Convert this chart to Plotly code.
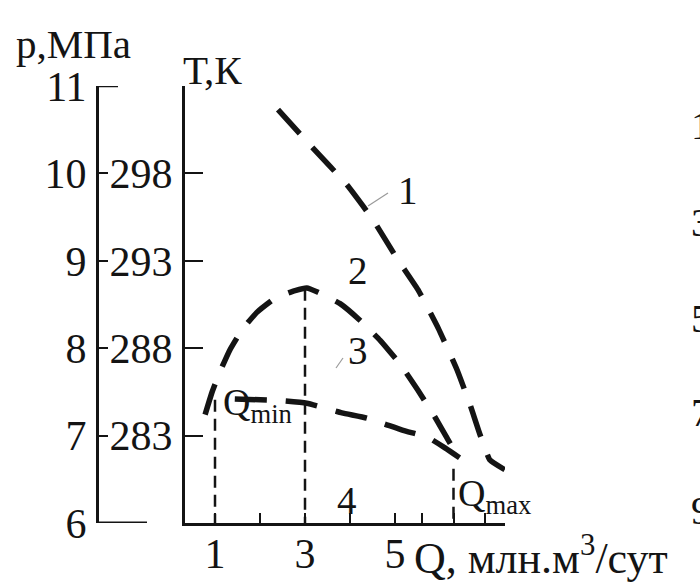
import plotly.graph_objects as go

# ---- data ----
# curve 1
Q1 = [2.40, 3.16, 3.93, 4.51, 5.04, 5.51, 5.96, 6.38, 6.67, 6.89, 7.11, 7.44]
P1 = [10.73, 10.30, 9.87, 9.47, 9.03, 8.67, 8.23, 7.75, 7.35, 7.01, 6.72, 6.61]
# curve 2
Q2 = [0.78, 0.93, 1.11, 1.33, 1.60, 1.93, 2.33, 2.78, 3.04, 3.29, 3.78, 4.22, 4.67, 5.11, 5.51, 5.89, 6.18, 6.44]
P2 = [7.24, 7.49, 7.73, 7.98, 8.21, 8.41, 8.57, 8.66, 8.69, 8.64, 8.51, 8.32, 8.09, 7.82, 7.52, 7.21, 6.95, 6.72]
# curve 3
Q3 = [1.44, 2.44, 3.04, 3.82, 4.38, 5.18, 5.73, 6.11, 6.51]
P3 = [7.42, 7.40, 7.37, 7.26, 7.20, 7.06, 6.98, 6.86, 6.72]
# vertical guide lines (Q, top p)
Q_guides = [1.0, 3.0, 6.3]
P_guides = [7.41, 8.68, 6.62]

# axes
x_tickvals = [1, 2, 3, 4, 5, 5.6, 6.3, 7.0]
x_ticktext = ["1", "", "3", "", "5", "", "", ""]
p_tickvals = [6, 7, 8, 9, 10, 11]
p_ticktext = ["6", "7", "8", "9", "10", "11"]
T_tickvals = [7, 8, 9, 10]
T_ticktext = ["283", "288", "293", "298"]

W, H = 700, 584
FONT = "Liberation Serif"
INK = "#141414"


def px(x):
    return x / W


def py(y):
    return 1 - y / H


fig = go.Figure()

curve_style = dict(color=INK, width=5.5, dash="32px,19px")
for q, p in [(Q1, P1), (Q2, P2), (Q3, P3)]:
    fig.add_trace(go.Scatter(x=q, y=p, mode="lines",
                             line=dict(curve_style, shape="spline", smoothing=0.4),
                             hoverinfo="skip", showlegend=False))

for q, p in zip(Q_guides, P_guides):
    fig.add_trace(go.Scatter(x=[q, q], y=[p, 6], mode="lines",
                             line=dict(color=INK, width=2.5, dash="12px,7px"),
                             hoverinfo="skip", showlegend=False))

# invisible trace for the p axis
fig.add_trace(go.Scatter(x=[None], y=[None], yaxis="y2", showlegend=False))

xr0 = (185 - 170) / 45
xr1 = (505 - 170) / 45
ydom = [py(523), py(86)]

tf = dict(size=42, family=FONT, color=INK)
fig.update_layout(
    width=W, height=H,
    margin=dict(l=0, r=0, t=0, b=0, autoexpand=False),
    paper_bgcolor="white", plot_bgcolor="white",
    font=dict(family=FONT, color=INK, size=40),
    xaxis=dict(domain=[px(185), px(505)], range=[xr0, xr1], automargin=False,
               showline=True, linecolor=INK, linewidth=3,
               showgrid=False, zeroline=False,
               ticks="inside", ticklen=10, tickwidth=2, tickcolor=INK,
               tickvals=x_tickvals, ticktext=x_ticktext,
               tickfont=tf, ticklabelstandoff=-8),
    yaxis=dict(domain=ydom, range=[6, 11], automargin=False,
               showline=True, linecolor=INK, linewidth=3,
               showgrid=False, zeroline=False,
               ticks="inside", ticklen=18, tickwidth=2, tickcolor=INK,
               tickvals=T_tickvals, ticktext=T_ticktext,
               tickfont=tf, ticklabelstandoff=1),
    yaxis2=dict(overlaying="y", anchor="free", position=px(97), side="left",
                range=[6, 11], automargin=False,
                showline=True, linecolor=INK, linewidth=3,
                showgrid=False, zeroline=False,
                ticks="inside", ticklen=9, tickwidth=2, tickcolor=INK,
                tickvals=p_tickvals, ticktext=p_ticktext,
                tickfont=tf, ticklabelstandoff=1),
    showlegend=False,
)

# decorations on the p axis: long tick at 11 and base line at 6
fig.add_shape(type="line", xref="paper", yref="y", x0=px(97), x1=px(118), y0=11, y1=11,
              line=dict(color=INK, width=2.5))
fig.add_shape(type="line", xref="paper", yref="y", x0=px(97), x1=px(147), y0=6, y1=6,
              line=dict(color=INK, width=3))
# leader lines for labels 1 and 3
fig.add_shape(type="line", xref="paper", yref="paper", x0=px(368), y0=py(206), x1=px(388), y1=py(193),
              line=dict(color="#9a9a9a", width=1.2))
fig.add_shape(type="line", xref="paper", yref="paper", x0=px(336), y0=py(368), x1=px(343), y1=py(358),
              line=dict(color="#9a9a9a", width=1.2))


def ann(text, x, y, size=40, xanchor="center", yanchor="middle"):
    fig.add_annotation(text=text, x=px(x), y=py(y), xref="paper", yref="paper",
                       showarrow=False, xanchor=xanchor, yanchor=yanchor,
                       font=dict(family=FONT, size=size, color=INK))


ann("p,МПа", 14, 44, size=41, xanchor="left")
ann("Т,К", 181, 70, size=41, xanchor="left")
ann("1", 408, 190, size=39)
ann("2", 358, 270, size=39)
ann("3", 358, 350, size=39)
ann("4", 347, 500, size=39)
ann("Q<sub>min</sub>", 221, 405, size=38, xanchor="left")
ann("Q<sub>max</sub>", 456, 496, size=38, xanchor="left")
ann("Q, млн.м<sup>3</sup>/сут", 412, 555, size=44, xanchor="left")
for t, yy in [("1", 125), ("3", 222), ("5", 318), ("7", 412), ("9", 510)]:
    ann(t, 689, yy, size=40, xanchor="left")

fig.write_html("out.html", config={"displayModeBar": False},
               post_script="document.body.style.margin='0';document.body.style.overflow='hidden';")
